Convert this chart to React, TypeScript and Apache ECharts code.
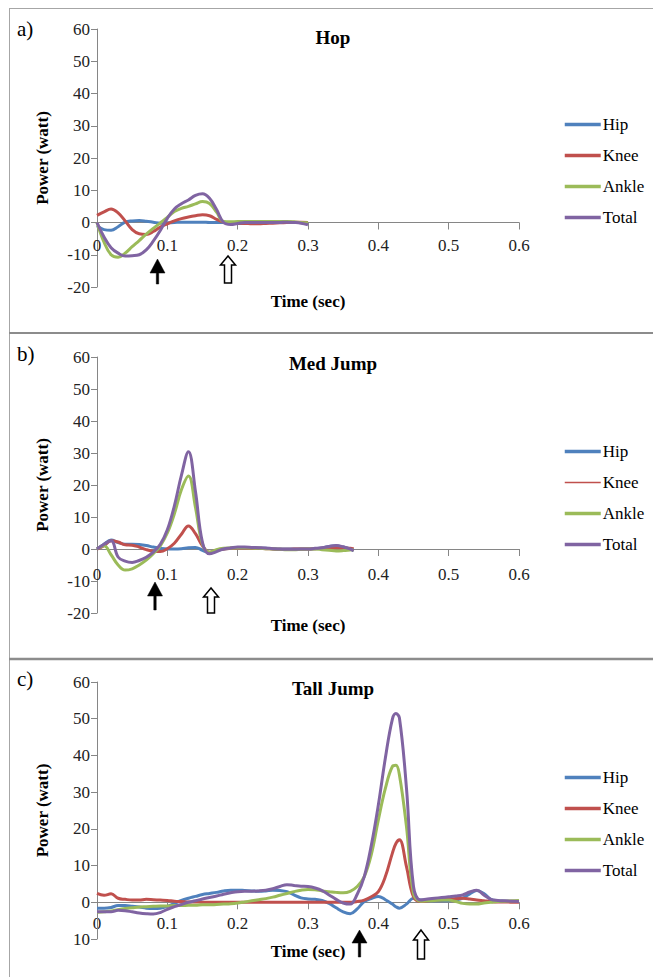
import React, { useEffect, useRef } from "react";
import * as echarts from "echarts";

const NAMES = ["Hip", "Knee", "Ankle", "Total"];
const COLORS = ["#4F81BD", "#C0504D", "#9BBB59", "#8064A2"];
const X_TICKS = [0, 0.1, 0.2, 0.3, 0.4, 0.5, 0.6];

// Panel a) Hop
const T_A = [0, 0.01, 0.02, 0.03, 0.04, 0.05, 0.06, 0.07, 0.08, 0.09, 0.1, 0.11, 0.12, 0.13, 0.14, 0.15, 0.16, 0.17, 0.18, 0.19, 0.2, 0.21, 0.22, 0.23, 0.24, 0.25, 0.26, 0.27, 0.28, 0.29, 0.3];
const HIP_A = [-1.0, -2.2, -2.4, -1.3, 0.1, 0.5, 0.6, 0.4, 0.1, -0.2, -0.1, 0, 0.1, 0.1, 0.1, 0.1, 0, 0, 0, 0, 0, 0, 0, 0, 0, 0, 0, 0, 0, 0, 0];
const KNEE_A = [2.2, 3.3, 4.2, 3.0, 0.5, -2.2, -3.5, -3.7, -2.8, -1.4, -0.4, 0.5, 1.2, 1.7, 2.1, 2.4, 2.1, 1.0, 0.1, -0.2, -0.3, -0.3, -0.4, -0.4, -0.3, -0.2, -0.1, 0, 0.1, 0.1, 0];
const ANKLE_A = [0, -6.1, -10, -10.8, -9.5, -7.5, -5.6, -3.6, -1.8, -0.1, 1.6, 3.4, 4.4, 5.0, 5.8, 6.5, 5.9, 3.2, 0.3, 0.2, 0.3, 0.3, 0.3, 0.3, 0.3, 0.3, 0.3, 0.3, 0.2, 0, -0.1];
const TOTAL_A = [0, -4.5, -7.8, -9.5, -10.4, -10.3, -10.0, -8.5, -5.8, -2.5, 1.3, 4.2, 5.8, 7.0, 8.4, 8.9, 7.5, 4.0, 0.0, -0.6, -0.3, 0, 0, 0, 0, 0, 0, 0.1, 0, -0.2, -0.7];

// Panel b) Med Jump
const T_B = [0, 0.01, 0.02, 0.03, 0.04, 0.05, 0.06, 0.07, 0.08, 0.09, 0.1, 0.11, 0.12, 0.13, 0.14, 0.15, 0.16, 0.17, 0.18, 0.19, 0.2, 0.21, 0.22, 0.23, 0.24, 0.25, 0.26, 0.27, 0.28, 0.29, 0.3, 0.31, 0.32, 0.33, 0.34, 0.35, 0.36, 0.365];
const HIP_B = [0, 1.5, 2.8, 2.0, 1.5, 1.5, 1.4, 1.1, 0.6, 0.2, 0, 0, 0.1, 0.4, 0.5, -0.4, -1.2, -0.5, 0, 0.3, 0.5, 0.5, 0.4, 0.3, 0.2, 0.1, 0, 0, 0, 0, 0, 0.1, 0.3, 0.8, 1.0, 0.6, 0, -0.5];
const KNEE_B = [0, 1.0, 2.6, 2.2, 1.3, 1.2, 0.6, -0.2, -0.7, -0.8, 0.1, 1.8, 4.6, 7.2, 4.8, 1.0, -1.0, -0.4, 0, 0.2, 0.3, 0.3, 0.2, 0.2, 0.1, 0, -0.1, -0.1, 0, 0, 0, 0.1, 0.2, 0.3, 0.4, 0.3, 0.2, 0];
const ANKLE_B = [0, 1.0, -1.8, -5.0, -6.6, -6.2, -5.0, -3.5, -1.5, 1.0, 5.0, 11, 18.5, 22.8, 13, 1.5, -1.0, -0.2, 0.2, 0.3, 0.4, 0.4, 0.3, 0.2, 0.1, 0, -0.1, -0.2, -0.2, -0.1, 0, 0, -0.2, -0.4, -0.6, -0.5, -0.3, -0.2];
const TOTAL_B = [0, 1.5, 2.6, -2.5, -3.8, -4.2, -3.6, -2.6, -1.0, 1.5, 6.0, 13.5, 23, 30.4, 18, 2.0, -1.5, -0.8, 0, 0.3, 0.6, 0.6, 0.5, 0.4, 0.3, 0.1, 0, -0.1, -0.1, 0, 0, 0.2, 0.4, 0.8, 1.1, 0.7, 0, -0.5];

// Panel c) Tall Jump
const T_C = [0, 0.01, 0.02, 0.03, 0.04, 0.05, 0.06, 0.07, 0.08, 0.09, 0.1, 0.11, 0.12, 0.13, 0.14, 0.15, 0.16, 0.17, 0.18, 0.19, 0.2, 0.21, 0.22, 0.23, 0.24, 0.25, 0.26, 0.27, 0.28, 0.29, 0.3, 0.31, 0.32, 0.33, 0.34, 0.35, 0.36, 0.37, 0.38, 0.39, 0.4, 0.41, 0.42, 0.425, 0.43, 0.44, 0.45, 0.46, 0.47, 0.48, 0.49, 0.5, 0.51, 0.52, 0.53, 0.54, 0.55, 0.56, 0.57, 0.58, 0.59, 0.6];
const HIP_C = [-1.6, -1.6, -1.4, -0.9, -0.9, -1.1, -1.3, -1.6, -1.7, -1.6, -1.1, -0.3, 0.5, 1.1, 1.6, 2.1, 2.4, 2.7, 3.1, 3.3, 3.3, 3.2, 3.1, 3.0, 3.1, 3.3, 3.2, 2.9, 2.0, 1.2, 0.9, 0.8, 0.5, -0.3, -1.5, -2.6, -3.1, -1.8, 0.2, 1.0, 1.6, 0.7, -0.5, -1.2, -1.6, -0.5, 1.1, 0.6, 0.4, 0.4, 0.4, 0.4, 0.6, 1.1, 2.3, 3.2, 2.4, 0.8, 0.4, 0.3, 0.2, 0.2];
const KNEE_C = [2.4, 1.9, 2.3, 1.1, 0.8, 0.6, 0.6, 0.8, 0.7, 0.6, 0.5, 0.3, 0.2, 0.1, 0.1, 0, 0, 0, 0, 0, 0, 0, 0, 0, 0, 0, 0, 0, 0, 0, 0, 0, 0, 0, 0, 0, 0, 0.2, 0.6, 1.5, 2.9, 7.0, 13.4, 16, 17, 9.7, 1.5, 0.2, 0.4, 0.6, 0.7, 0.8, 1.0, 1.1, 0.9, 0.6, 0.4, 0.2, 0.1, 0.1, 0, 0];
const ANKLE_C = [-2.7, -2.6, -2.4, -2.0, -1.7, -1.5, -1.3, -1.2, -1.1, -1.0, -1.0, -0.9, -0.9, -0.8, -0.8, -0.7, -0.7, -0.6, -0.5, -0.4, -0.2, 0.1, 0.4, 0.7, 1.0, 1.4, 1.9, 2.4, 2.9, 3.3, 3.5, 3.4, 3.1, 2.9, 2.7, 2.6, 3.0, 4.3, 7.0, 13, 22.4, 31, 37, 37.3, 34.7, 20.6, 2.4, 0.3, 0.4, 0.5, 0.6, 0.6, 0.2, -0.3, -0.5, -0.5, -0.2, 0, 0.2, 0.3, 0.4, 0.5];
const TOTAL_C = [-2.6, -2.6, -2.6, -2.2, -2.3, -2.6, -2.9, -3.1, -3.2, -2.8, -1.9, -1.2, -0.6, 0, 0.4, 0.9, 1.3, 1.7, 2.2, 2.6, 2.9, 3.0, 3.0, 3.1, 3.3, 3.7, 4.3, 4.8, 4.6, 4.4, 4.3, 3.9, 3.2, 2.0, 0.8, -0.2, -0.5, 2.2, 7.0, 15.5, 26.5, 39.3, 49.9, 51.4, 50.2, 31.1, 4.3, 0.6, 0.9, 1.1, 1.3, 1.5, 1.7, 2.0, 2.8, 3.3, 2.0, 0.8, 0.5, 0.4, 0.3, 0.2];

const TITLES = ["Hop", "Med Jump", "Tall Jump"];
const LETTERS = ["a)", "b)", "c)"];
const Y_MINS = [-20, -20, -10];
const Y_MAX = 60;

const SERIF = "Liberation Serif";

const fmtX = (v: number) => (Math.abs(v) < 1e-9 ? "0" : v.toFixed(1));

export default function App() {
  const ref = useRef<HTMLDivElement>(null);

  useEffect(() => {
    if (!ref.current) return;
    const chart = echarts.init(ref.current, null, { renderer: "svg" });

    const panels = [
      { t: T_A, vals: [HIP_A, KNEE_A, ANKLE_A, TOTAL_A] },
      { t: T_B, vals: [HIP_B, KNEE_B, ANKLE_B, TOTAL_B] },
      { t: T_C, vals: [HIP_C, KNEE_C, ANKLE_C, TOTAL_C] },
    ];

    const layout = [
      { top: 29, height: 258, xLabelMargin: 17, xNameGap: 70, legendTop: 111, titleY: 37, letterY: 29, ownLabels: false,
        solid: { x: 157.5, top: 259, base: 273, bottom: 284 }, hollow: { x: 228, top: 256, base: 265, bottom: 283 } },
      { top: 357, height: 256, xLabelMargin: 19, xNameGap: 68, legendTop: 438, titleY: 363, letterY: 354, ownLabels: false,
        solid: { x: 155, top: 582, base: 596, bottom: 610 }, hollow: { x: 211, top: 588, base: 597, bottom: 613 } },
      { top: 682, height: 257, xLabelMargin: 15, xNameGap: 41, legendTop: 764, titleY: 688, letterY: 679, ownLabels: true,
        solid: { x: 359.5, top: 930, base: 943, bottom: 957 }, hollow: { x: 421, top: 930, base: 940, bottom: 959 } },
    ];

    const grids: any[] = [];
    const xAxes: any[] = [];
    const yAxes: any[] = [];
    const series: any[] = [];
    const legends: any[] = [];
    const graphics: any[] = [];

    const axisColor = "#868686";
    const richTick = { t: { fontFamily: SERIF, fontSize: 17, lineHeight: 12, color: "#222", fontWeight: "normal" } };

    panels.forEach((p, i) => {
      const L = layout[i];
      const yMin = Y_MINS[i];
      // move the x axis (line, ticks, labels, name) up to the y = 0 level
      const zeroOffset = -L.height * (0 - yMin) / (Y_MAX - yMin);
      grids.push({ left: 97, top: L.top, width: 422, height: L.height, containLabel: false });
      xAxes.push({
        type: "value",
        gridIndex: i,
        position: "bottom",
        offset: zeroOffset,
        min: X_TICKS[0],
        max: X_TICKS[X_TICKS.length - 1],
        interval: 0.1,
        axisLine: { show: true, onZero: false, lineStyle: { color: axisColor, width: 1 } },
        axisTick: { show: true, length: 7, inside: false, lineStyle: { color: axisColor } },
        splitLine: { show: false },
        axisLabel: {
          show: !L.ownLabels,
          fontFamily: SERIF,
          fontSize: 17,
          lineHeight: 12,
          color: "#222",
          margin: L.xLabelMargin,
          formatter: (v: number) => `{t|${fmtX(v)}}`,
          rich: richTick,
        },
        name: "Time (sec)",
        nameLocation: "middle",
        nameGap: L.xNameGap,
        nameTextStyle: { fontFamily: SERIF, fontSize: 17, fontWeight: "bold", color: "#000" },
      });
      yAxes.push({
        type: "value",
        gridIndex: i,
        min: yMin,
        max: Y_MAX,
        interval: 10,
        axisLine: { show: true, onZero: false, lineStyle: { color: axisColor, width: 1 } },
        axisTick: { show: true, length: 6, lineStyle: { color: axisColor } },
        splitLine: { show: false },
        axisLabel: {
          fontFamily: SERIF,
          fontSize: 17,
          lineHeight: 12,
          color: "#222",
          margin: 7,
          formatter: (v: number) => `{t|${i === 2 ? Math.abs(v) : v}}`,
          rich: richTick,
        },
        name: "Power (watt)",
        nameLocation: "middle",
        nameGap: 46,
        nameTextStyle: { fontFamily: SERIF, fontSize: 17, fontWeight: "bold", color: "#000" },
      });

      NAMES.forEach((n, k) => {
        series.push({
          type: "line",
          name: n,
          xAxisIndex: i,
          yAxisIndex: i,
          data: p.t.map((t, j) => [t, p.vals[k][j]]),
          smooth: 0.4,
          symbol: "none",
          showSymbol: false,
          lineStyle: { width: 3, color: COLORS[k] },
          itemStyle: { color: COLORS[k] },
          emphasis: { disabled: true },
        });
      });

      legends.push({
        orient: "vertical",
        left: 558,
        top: L.legendTop,
        itemWidth: 36,
        itemHeight: 14,
        itemGap: 14,
        selectedMode: false,
        itemStyle: { opacity: 0 },
        textStyle: { fontFamily: SERIF, fontSize: 17, color: "#000", padding: [0, 0, 0, -3] },
        data: NAMES.map((n, k) =>
          i === 1 && n === "Knee"
            ? { name: n, lineStyle: { width: 1.5, color: COLORS[k] } }
            : { name: n, lineStyle: { width: 3.5, color: COLORS[k] } }
        ),
      });

      graphics.push({
        type: "text",
        x: 333,
        y: L.titleY,
        style: {
          text: TITLES[i],
          font: `bold 19px ${SERIF}`,
          fill: "#000",
          textAlign: "center",
          textVerticalAlign: "middle",
        },
      });
      graphics.push({
        type: "text",
        x: 17,
        y: L.letterY,
        style: {
          text: LETTERS[i],
          font: `21px ${SERIF}`,
          fill: "#000",
          textAlign: "left",
          textVerticalAlign: "middle",
        },
      });

      const s = L.solid;
      graphics.push({
        type: "polygon",
        shape: {
          points: [
            [s.x, s.top], [s.x - 7.5, s.base], [s.x - 1.2, s.base], [s.x - 1.2, s.bottom],
            [s.x + 1.2, s.bottom], [s.x + 1.2, s.base], [s.x + 7.5, s.base],
          ],
        },
        style: { fill: "#000", stroke: "#000", lineWidth: 0.5 },
      });
      const h = L.hollow;
      graphics.push({
        type: "polygon",
        shape: {
          points: [
            [h.x, h.top], [h.x - 7.5, h.base], [h.x - 3.5, h.base], [h.x - 3.5, h.bottom],
            [h.x + 3.5, h.bottom], [h.x + 3.5, h.base], [h.x + 7.5, h.base],
          ],
        },
        style: { fill: "#fff", stroke: "#000", lineWidth: 1.5 },
      });
    });

    // panel frames
    graphics.push({ type: "line", shape: { x1: 9.5, y1: 8, x2: 9.5, y2: 977 }, style: { stroke: "#a6a6a6", lineWidth: 1 } });
    graphics.push({ type: "line", shape: { x1: 9, y1: 8.5, x2: 653, y2: 8.5 }, style: { stroke: "#a6a6a6", lineWidth: 1 } });
    graphics.push({ type: "line", shape: { x1: 9, y1: 333, x2: 653, y2: 333 }, style: { stroke: "#8c8c8c", lineWidth: 2 } });
    graphics.push({ type: "line", shape: { x1: 9, y1: 659, x2: 653, y2: 659 }, style: { stroke: "#8c8c8c", lineWidth: 2.5 } });

    chart.setOption({
      animation: false,
      backgroundColor: "#ffffff",
      textStyle: { fontFamily: SERIF },
      grid: grids,
      xAxis: xAxes,
      yAxis: yAxes,
      legend: legends,
      series,
      graphic: graphics,
    });

    // Tick labels of panel c placed through the library's own scale (convertToPixel),
    // just under its y = 0 axis line.
    try {
      const extra: any[] = [];
      layout.forEach((L, i) => {
        if (!L.ownLabels) return;
        X_TICKS.forEach((t) => {
          const pt = chart.convertToPixel({ gridIndex: i }, [t, 0]) as number[];
          if (!pt) return;
          extra.push({
            type: "text",
            x: pt[0],
            y: pt[1] + L.xLabelMargin + 6,
            style: {
              text: fmtX(t),
              font: `17px ${SERIF}`,
              fill: "#222",
              textAlign: "center",
              textVerticalAlign: "middle",
            },
          });
        });
      });
      if (extra.length) chart.setOption({ graphic: graphics.concat(extra) });
    } catch (e) {
      // keep the chart as drawn
    }

    return () => chart.dispose();
  }, []);

  return (
    <div
      ref={ref}
      style={{ position: "absolute", left: 0, top: 0, width: 653, height: 977, background: "#fff" }}
    />
  );
}
